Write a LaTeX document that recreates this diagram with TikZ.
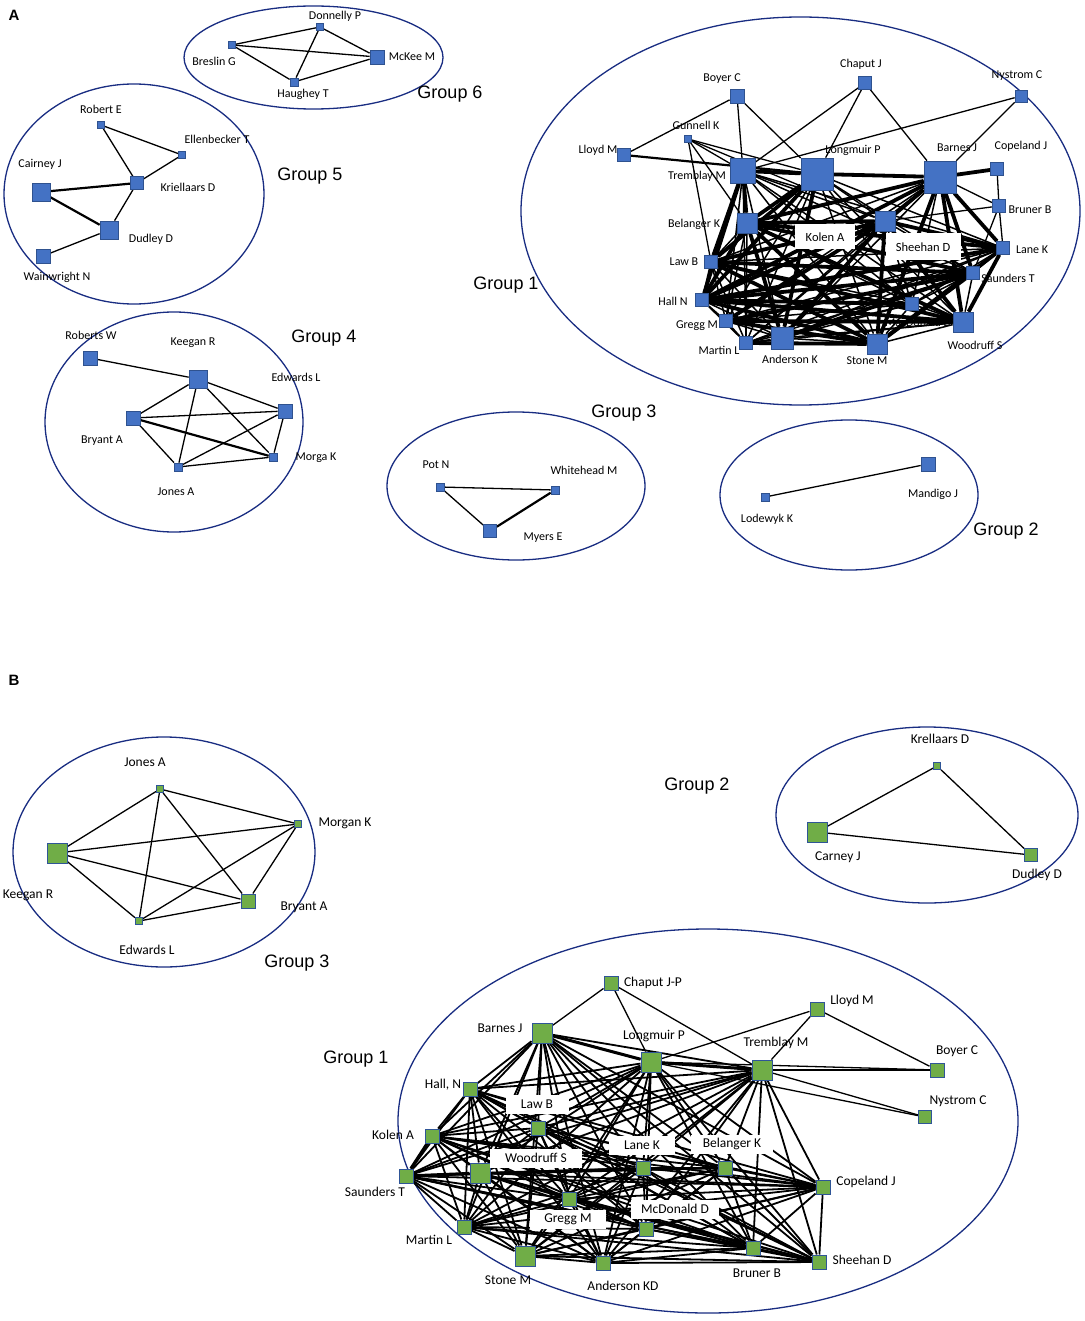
\documentclass[tikz,border=0pt]{standalone}
\usepackage{fontspec}
\setmainfont{Carlito}
\newfontfamily\arialf{Liberation Sans}
\usetikzlibrary{backgrounds}
\definecolor{nblue}{RGB}{68,114,196}
\definecolor{nbord}{RGB}{47,82,143}
\definecolor{ngreen}{RGB}{112,173,71}
\definecolor{gbord}{RGB}{47,85,151}
\definecolor{ellc}{RGB}{25,45,130}
\tikzset{
 bsq/.style={rectangle, fill=nblue, draw=nbord, line width=0.7pt, inner sep=0pt, minimum size=#1},
 gsq/.style={rectangle, fill=ngreen, draw=gbord, line width=1pt, inner sep=0pt, minimum size=#1},
 grp/.style={draw=ellc, line width=1.3pt},
 la/.style={font=\fontsize{12}{13}\selectfont, inner sep=1pt},
 lb/.style={font=\fontsize{13.5}{15}\selectfont, inner sep=1pt},
 wbox/.style={fill=white, inner sep=0pt, minimum height=#1},
 gl/.style={font=\arialf\fontsize{18}{20}\selectfont, inner sep=0pt},
 pl/.style={font=\arialf\bfseries\fontsize{15}{18}\selectfont, inner sep=0pt},
 e/.style={line width=1.3pt},
 em/.style={line width=2.2pt},
 ek/.style={line width=3.8pt},
 ec/.style={line width=1.5pt},
 ebc/.style={line width=1.8pt},
 ebk/.style={line width=3pt},
}
\begin{document}
\begin{tikzpicture}[x=1pt,y=-1pt]
\useasboundingbox (0,0) rectangle (1084,1321);

% ---------- Panel A ----------
\node[pl] (pA) at (14,15) {A};
% Group 6
\node[bsq=7] (aDon) at (320,27) {};
\node[bsq=7] (aBre) at (232,45) {};
\node[bsq=14] (aMck) at (377,57) {};
\node[bsq=8] (aHau) at (294,82) {};
\node[la] (lDon) at (335,16) {Donnelly P};
\node[la] (lBre) at (214,61) {Breslin G};
\node[la] (lMck) at (412,57) {McKee M};
\node[la] (lHau) at (303,94) {Haughey T};
\node[gl] (g6) at (450,94) {Group 6};
% Group 5
\node[bsq=7] (aRob) at (101,125) {};
\node[bsq=7] (aEll) at (182,155) {};
\node[bsq=18] (aCai) at (41,192) {};
\node[bsq=13] (aKri) at (137,183) {};
\node[bsq=18] (aDud) at (109,230) {};
\node[bsq=14] (aWai) at (43,256) {};
\node[la] (lRob) at (101,109) {Robert E};
\node[la] (lEll) at (217,139) {Ellenbecker T};
\node[la] (lCai) at (40,164) {Cairney J};
\node[la] (lKri) at (188,187) {Kriellaars D};
\node[la] (lDud) at (151,239) {Dudley D};
\node[la] (lWai) at (57,277) {Wainwright N};
\node[gl] (g5) at (310,176) {Group 5};
% Group 4
\node[bsq=14] (aRbw) at (90,358) {};
\node[bsq=18] (aKee) at (198,379) {};
\node[bsq=14] (aBry) at (133,418) {};
\node[bsq=14] (aEdw) at (285,411) {};
\node[bsq=8] (aMor) at (273,457) {};
\node[bsq=8] (aJon) at (178,467) {};
\node[la] (lRbw) at (91,335) {Roberts W};
\node[la] (lKee) at (193,343) {Keegan R};
\node[la] (lEdw) at (296,377) {Edwards L};
\node[la] (lBry) at (102,441) {Bryant A};
\node[la] (lMor) at (316,458) {Morga K};
\node[la] (lJon) at (176,492) {Jones A};
\node[gl] (g4) at (324,338) {Group 4};
% Group 3
\node[bsq=8] (aPot) at (440,487) {};
\node[bsq=8] (aWhi) at (555,490) {};
\node[bsq=13] (aMye) at (490,531) {};
\node[la] (lPot) at (436,465) {Pot N};
\node[la] (lWhi) at (584,470) {Whitehead M};
\node[la] (lMye) at (543,538) {Myers E};
\node[gl] (g3) at (624,413) {Group 3};
% Group 2
\node[bsq=8] (aLod) at (765,497) {};
\node[bsq=14] (aMan) at (928,464) {};
\node[la] (lLod) at (767,519) {Lodewyk K};
\node[la] (lMan) at (933,494) {Mandigo J};
\node[gl] (g2) at (1006,531) {Group 2};
% Group 1
\node[bsq=14] (aBoy) at (737,96) {};
\node[bsq=13] (aCha) at (865,83) {};
\node[bsq=12] (aNys) at (1021,96) {};
\node[bsq=7] (aGun) at (688,139) {};
\node[bsq=13] (aLlo) at (624,155) {};
\node[bsq=25] (aTre) at (743,171) {};
\node[bsq=32] (aLon) at (817,174) {};
\node[bsq=32] (aBar) at (940,177) {};
\node[bsq=13] (aCop) at (997,169) {};
\node[bsq=13] (aBru) at (999,206) {};
\node[bsq=20] (aBel) at (747,223) {};
\node[bsq=20] (aKol) at (885,221) {};
\node[bsq=13] (aLan) at (1003,248) {};
\node[bsq=13] (aLaw) at (711,262) {};
\node[bsq=13] (aSau) at (973,273) {};
\node[bsq=13] (aHal) at (702,300) {};
\node[bsq=13] (aMac) at (912,304) {};
\node[bsq=13] (aGre) at (726,321) {};
\node[bsq=20] (aWoo) at (963,322) {};
\node[bsq=13] (aMar) at (746,343) {};
\node[bsq=22] (aAnd) at (782,338) {};
\node[bsq=20] (aSto) at (877,344) {};
\node[la] (lBoy) at (722,79) {Boyer C};
\node[la] (lCha) at (861,64) {Chaput J};
\node[la] (lNys) at (1017,76) {Nystrom C};
\node[la] (lGun) at (696,125) {Gunnell K};
\node[la] (lLlo) at (598,150) {Lloyd M};
\node[la] (lTre) at (697,176) {Tremblay M};
\node[la] (lLon) at (853,150) {Longmuir P};
\node[la] (lBar) at (957,148) {Barnes J};
\node[la] (lCop) at (1021,146) {Copeland J};
\node[la] (lBru) at (1030,210) {Bruner B};
\node[la] (lBel) at (694,224) {Belanger K};
\node[la] (lLan) at (1032,250) {Lane K};
\node[la] (lLaw) at (684,262) {Law B};
\node[la] (lSau) at (1008,278) {Saunders T};
\node[la] (lHal) at (673,301) {Hall N};
\node[la] (lGre) at (697,326) {Gregg M};
\node[la] (lMac) at (918,322) {MacDonald D};
\node[la] (lMar) at (719,350) {Martin L};
\node[la] (lAnd) at (790,359) {Anderson K};
\node[la] (lSto) at (867,361) {Stone M};
\node[la] (lWoo) at (975,345) {Woodruff S};
\node[la, font=\fontsize{12.5}{14}\selectfont, wbox=25, minimum width=60] (lKol) at (825,237) {Kolen A};
\node[la, font=\fontsize{12.5}{14}\selectfont, wbox=27, minimum width=75] (lShe) at (923,247) {Sheehan D};
\node[gl] (g1) at (506,285) {Group 1};

% ---------- Panel B ----------
\node[pl] (pB) at (14,680) {B};
% Group 3
\node[gsq=7] (bJon) at (160,789) {};
\node[gsq=7] (bMor) at (298,824) {};
\node[gsq=20] (bKee) at (57,853) {};
\node[gsq=14] (bBry) at (248,901) {};
\node[gsq=7] (bEdw) at (139,921) {};
\node[lb] (mJon) at (145,762) {Jones A};
\node[lb] (mMor) at (345,823) {Morgan K};
\node[lb] (mKee) at (28,895) {Keegan R};
\node[lb] (mBry) at (304,907) {Bryant A};
\node[lb] (mEdw) at (147,950) {Edwards L};
\node[gl] (h3) at (297,963) {Group 3};
% Group 2
\node[gsq=7] (bKre) at (937,766) {};
\node[gsq=20] (bCar) at (817,832) {};
\node[gsq=13] (bDud) at (1031,855) {};
\node[lb] (mKre) at (940,739) {Krellaars D};
\node[lb] (mCar) at (838,857) {Carney J};
\node[lb] (mDud) at (1037,875) {Dudley D};
\node[gl] (h2) at (697,786) {Group 2};
% Group 1
\node[gsq=14] (bCha) at (611,983) {};
\node[gsq=20] (bBar) at (542,1033) {};
\node[gsq=20] (bLon) at (651,1062) {};
\node[gsq=14] (bLlo) at (817,1009) {};
\node[gsq=20] (bTre) at (762,1070) {};
\node[gsq=14] (bBoy) at (937,1070) {};
\node[gsq=13] (bNys) at (925,1117) {};
\node[gsq=14] (bHal) at (470,1089) {};
\node[gsq=14] (bLaw) at (538,1128) {};
\node[gsq=14] (bKol) at (432,1136) {};
\node[gsq=14] (bSau) at (406,1176) {};
\node[gsq=20] (bWoo) at (480,1173) {};
\node[gsq=14] (bLan) at (643,1168) {};
\node[gsq=14] (bBel) at (725,1168) {};
\node[gsq=14] (bCop) at (823,1187) {};
\node[gsq=14] (bGre) at (569,1199) {};
\node[gsq=14] (bMcd) at (646,1229) {};
\node[gsq=14] (bMar) at (464,1227) {};
\node[gsq=20] (bSto) at (525,1256) {};
\node[gsq=14] (bAnd) at (603,1263) {};
\node[gsq=14] (bBru) at (753,1248) {};
\node[gsq=14] (bShe) at (819,1262) {};
\node[lb] (mCha) at (653,983) {Chaput J-P};
\node[lb] (mBar) at (500,1028) {Barnes J};
\node[lb] (mLon) at (654,1036) {Longmuir P};
\node[lb] (mLlo) at (852,1001) {Lloyd M};
\node[lb] (mTre) at (776,1043) {Tremblay M};
\node[lb] (mBoy) at (957,1051) {Boyer C};
\node[lb] (mNys) at (958,1101) {Nystrom C};
\node[lb] (mHal) at (443,1085) {Hall, N};
\node[lb] (mKol) at (393,1135) {Kolen A};
\node[lb] (mSau) at (375,1192) {Saunders T};
\node[lb] (mMar) at (429,1240) {Martin L};
\node[lb] (mSto) at (508,1280) {Stone M};
\node[lb] (mAnd) at (623,1286) {Anderson KD};
\node[lb] (mBru) at (757,1273) {Bruner B};
\node[lb] (mShe) at (862,1260) {Sheehan D};
\node[lb] (mCop) at (866,1182) {Copeland J};
\node[lb, wbox=19, minimum width=63] (mLaw) at (537,1104) {Law B};
\node[lb, wbox=19, minimum width=92] (mWoo) at (536,1158) {Woodruff S};
\node[lb, wbox=19, minimum width=66] (mLan) at (642,1145) {Lane K};
\node[lb, wbox=19, minimum width=82] (mBel) at (732,1144) {Belanger K};
\node[lb, wbox=19, minimum width=76] (mGre) at (568,1219) {Gregg M};
\node[lb, wbox=19, minimum width=88] (mMcd) at (675,1209) {McDonald D};
\node[gl] (h1) at (356,1059) {Group 1};

% ---------- edges and group outlines ----------
\begin{scope}[on background layer]
\fill[white] (0,0) rectangle (1084,1321);
\draw[grp] (313.5,57.5) ellipse [x radius=129.5, y radius=51.5];
\draw[grp] (134,194) ellipse [x radius=130, y radius=110];
\draw[grp] (174,422) ellipse [x radius=129, y radius=110];
\draw[grp] (516,486) ellipse [x radius=129, y radius=74];
\draw[grp] (849,495) ellipse [x radius=129, y radius=75];
\draw[grp] (800.5,211) ellipse [x radius=279.5, y radius=194];
\draw[grp] (164,852) ellipse [x radius=151, y radius=115];
\draw[grp] (927,815) ellipse [x radius=151, y radius=88];
\draw[grp] (708,1121) ellipse [x radius=310, y radius=192];

% A small groups
\foreach \p/\q in {aBre/aDon,aBre/aMck,aBre/aHau,aDon/aMck,aDon/aHau,aHau/aMck,
  aRob/aEll,aRob/aKri,aEll/aKri,aKri/aDud,aDud/aWai,
  aRbw/aKee,aKee/aBry,aKee/aEdw,aKee/aJon,aKee/aMor,aBry/aEdw,aBry/aJon,aEdw/aJon,aEdw/aMor,aJon/aMor,
  aPot/aWhi,aPot/aMye,aLod/aMan}
  \draw[e] (\p) -- (\q);
\draw[em] (aCai) -- (aKri);
\draw[em] (aCai) -- (aDud);
\draw[em] (aBry) -- (aMor);
\draw[em] (aWhi) -- (aMye);

% A group 1
\def\coreA{aTre,aLon,aBar,aBel,aKol,aLaw,aHal,aGre,aMar,aAnd,aSto,aWoo,aSau,aLan,aMac}
\foreach \p [count=\i] in \coreA {
  \foreach \q [count=\j] in \coreA {
    \ifnum\j>\i\relax \draw[ec] (\p) -- (\q); \fi
  }
}
\foreach \p/\q in {aLon/aBar,aTre/aLon,aBar/aCop,aBar/aBel,aBar/aKol,aBar/aLan,aBar/aSau,aBar/aWoo,
  aBar/aSto,aBar/aHal,aLon/aBel,aLon/aLaw,aLon/aHal,aLon/aAnd,aTre/aBel,aTre/aLaw,aTre/aHal,
  aBel/aKol,aBel/aHal,aBel/aSto,aBel/aWoo,aBel/aSau,aBel/aLan,aBel/aAnd,aKol/aHal,aKol/aLaw,
  aKol/aSto,aKol/aWoo,aKol/aLan,aKol/aGre,aLaw/aSto,aLaw/aWoo,aLaw/aSau,aHal/aSto,aHal/aWoo,
  aHal/aSau,aHal/aLan,aGre/aSto,aGre/aWoo,aGre/aSau,aAnd/aKol,aAnd/aSau,aSto/aLan,aSto/aSau,
  aWoo/aLan,aMar/aSto,aHal/aMac}
  \draw[ek] (\p) -- (\q);
\foreach \p/\q in {aBoy/aLlo,aBoy/aTre,aBoy/aLon,aCha/aTre,aCha/aLon,aCha/aBar,aNys/aTre,aNys/aBar,
  aGun/aTre,aGun/aLon,aGun/aKol,aGun/aLaw,aGun/aBel,aCop/aBru,aBru/aLan,aBar/aBru,aBru/aKol,aBru/aSau}
  \draw[e] (\p) -- (\q);
\draw[em] (aLlo) -- (aLon);

% B small groups
\foreach \p/\q in {bJon/bMor,bJon/bKee,bJon/bEdw,bJon/bBry,bKee/bMor,bKee/bEdw,bKee/bBry,
  bMor/bEdw,bMor/bBry,bEdw/bBry,bKre/bCar,bKre/bDud,bCar/bDud}
  \draw[e] (\p) -- (\q);

% B group 1
\def\coreB{bBar,bLon,bTre,bHal,bLaw,bKol,bSau,bWoo,bLan,bBel,bCop,bGre,bMcd,bMar,bSto,bAnd,bBru,bShe}
\foreach \p [count=\i] in \coreB {
  \foreach \q [count=\j] in \coreB {
    \ifnum\j>\i\relax \draw[ebc] (\p) -- (\q); \fi
  }
}
\foreach \p/\q in {bBar/bLon,bLon/bTre,bSau/bWoo,bKol/bSau}
  \draw[ebk] (\p) -- (\q);
\foreach \p/\q in {bCha/bBar,bCha/bLon,bCha/bTre,bLlo/bLon,bLlo/bTre,bLlo/bBoy,bTre/bBoy,
  bLon/bBoy,bTre/bNys,bLon/bNys}
  \draw[e] (\p) -- (\q);
\end{scope}
\end{tikzpicture}
\end{document}
